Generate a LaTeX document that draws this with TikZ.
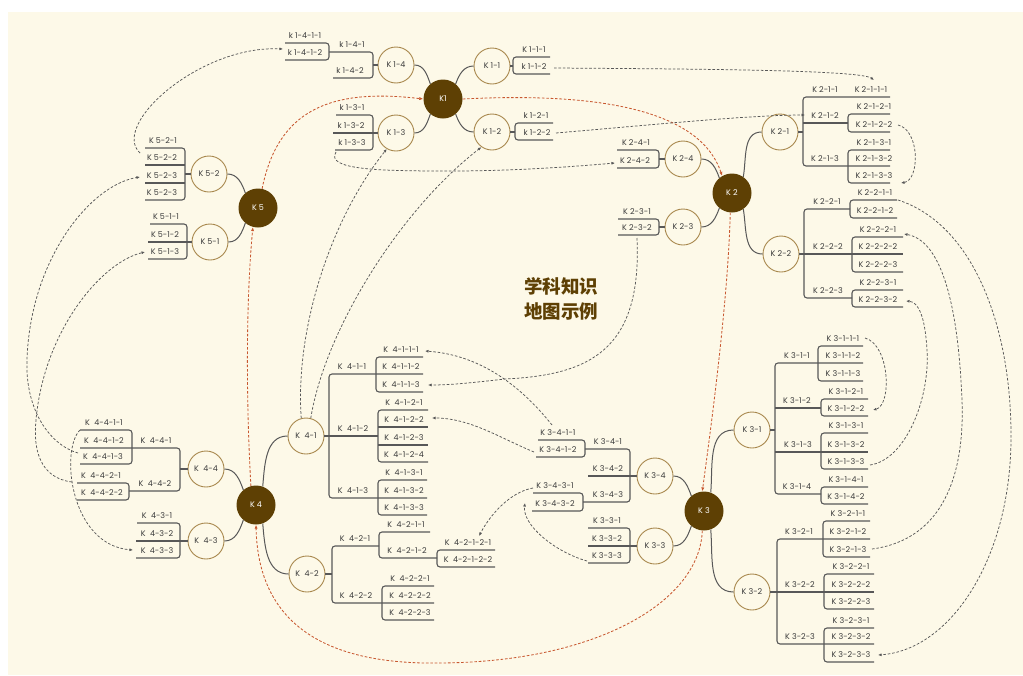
\documentclass[tikz,border=0pt]{standalone}
\usepackage{fontspec}
\setmainfont{Poppins}
\newfontfamily\cjk{Noto Sans CJK SC}
\usetikzlibrary{arrows.meta}

\definecolor{paper}{RGB}{253,249,232}
\definecolor{core}{RGB}{94,64,4}
\definecolor{ring}{RGB}{168,136,78}
\definecolor{wire}{RGB}{88,88,88}
\definecolor{ink}{RGB}{60,60,60}
\definecolor{cyc}{RGB}{200,88,48}

\newcommand\Kw{K\hspace{0.55em}}
% label above an underline: name, centre x, line y, text
\newcommand\tl[4]{\node[labeltext] (#1) at (#2,#3) {#4};}

\tikzset{
  mainnode/.style={circle, fill=core, minimum size=39pt, inner sep=0pt, text=white,
                   font=\fontsize{8}{9}\selectfont},
  subnode/.style={circle, draw=ring, line width=0.9pt, fill=paper, minimum size=36pt,
                  inner sep=0pt, text=ink, font=\fontsize{8}{9}\selectfont},
  labeltext/.style={anchor=base, yshift=4.2pt, inner sep=0pt, text=ink,
                    font=\fontsize{8}{9}\selectfont},
  treeline/.style={draw=wire, line width=1.1pt, rounded corners=3pt},
  mainlink/.style={draw=wire, line width=1pt},
  jumpline/.style={draw=wire, line width=0.75pt, dash pattern=on 2.6pt off 1.8pt,
                   -{Latex[length=3.5pt,width=3pt]}},
  loopline/.style={draw=cyc, line width=0.85pt, dash pattern=on 2.6pt off 1.8pt,
                   -{Latex[length=4pt,width=3.2pt]}},
}

\begin{document}
\begin{tikzpicture}[x=1pt,y=-1pt]
\useasboundingbox (0,0) rectangle (1023,675);
\fill[white] (0,0) rectangle (1023,675);
\fill[paper] (8,12) rectangle (1023,675);

% ---------- main topics ----------
\node[mainnode] (K1) at (443,99) {K1};
\node[mainnode] (K2) at (732,193) {K 2};
\node[mainnode] (K3) at (704,511) {K 3};
\node[mainnode] (K4) at (256,505) {K 4};
\node[mainnode] (K5) at (258,208) {K 5};

% ---------- sub topics ----------
\node[subnode] (K14) at (396,65) {K 1-4};
\node[subnode] (K13) at (396,133) {K 1-3};
\node[subnode] (K11) at (492,66) {K 1-1};
\node[subnode] (K12) at (492,132) {K 1-2};
\node[subnode] (K24) at (683,159) {K 2-4};
\node[subnode] (K23) at (683,227) {K 2-3};
\node[subnode] (K21) at (780,132) {K 2-1};
\node[subnode] (K22) at (781,254) {K 2-2};
\node[subnode] (K34) at (655,476) {K 3-4};
\node[subnode] (K33) at (655,546) {K 3-3};
\node[subnode] (K31) at (752,430) {K 3-1};
\node[subnode] (K32) at (752,592) {K 3-2};
\node[subnode] (K44) at (206,469) {\Kw 4-4};
\node[subnode] (K43) at (206,541) {\Kw 4-3};
\node[subnode] (K41) at (306,436) {\Kw 4-1};
\node[subnode] (K42) at (307,574) {\Kw 4-2};
\node[subnode] (K52) at (209,174) {K 5-2};
\node[subnode] (K51) at (210,242) {K 5-1};

% ---------- links main -> sub ----------
\draw[mainlink] (K14.east) to[out=0,in=110] (K1.130);
\draw[mainlink] (K13.east) to[out=0,in=-110] (K1.230);
\draw[mainlink] (K1.50) to[out=70,in=180] (K11.west);
\draw[mainlink] (K1.310) to[out=-70,in=180] (K12.west);
\draw[mainlink] (K24.east) to[out=0,in=110] (K2.130);
\draw[mainlink] (K23.east) to[out=0,in=-110] (K2.230);
\draw[mainlink] (K2.55) to[out=80,in=180] (K21.west);
\draw[mainlink] (K2.305) to[out=-80,in=180] (K22.west);
\draw[mainlink] (K34.east) to[out=0,in=110] (K3.130);
\draw[mainlink] (K33.east) to[out=0,in=-110] (K3.230);
\draw[mainlink] (K3.70) to[out=85,in=180] (K31.west);
\draw[mainlink] (K3.290) to[out=-85,in=180] (K32.west);
\draw[mainlink] (K44.east) to[out=0,in=110] (K4.130);
\draw[mainlink] (K43.east) to[out=0,in=-110] (K4.230);
\draw[mainlink] (K4.70) to[out=85,in=180] (K41.west);
\draw[mainlink] (K4.290) to[out=-85,in=180] (K42.west);
\draw[mainlink] (K52.east) to[out=0,in=110] (K5.130);
\draw[mainlink] (K51.east) to[out=0,in=-110] (K5.230);

% ---------- K 1 branches ----------
\draw[treeline] (K14.west) -- (373,65);
\draw[treeline] (329,52) -- (373,52) -- (373,78) -- (333,78);
\draw[treeline] (285,43) -- (329,43) -- (329,60) -- (285,60);
\draw[treeline] (K13.west) -- (333,133);
\draw[treeline] (336,115) -- (373,115) -- (373,150) -- (335,150);
\draw[treeline] (K11.east) -- (513,66);
\draw[treeline] (550,57) -- (513,57) -- (513,74) -- (550,74);
\draw[treeline] (K12.east) -- (515,132);
\draw[treeline] (553,123) -- (515,123) -- (515,140) -- (553,140);

\tl{l141}{352}{52}{k 1-4-1}
\tl{l142}{350}{78}{k 1-4-2}
\tl{l1411}{305}{43}{k 1-4-1-1}
\tl{l1412}{305}{60}{k 1-4-1-2}
\tl{l131}{352}{115}{k 1-3-1}
\tl{l132}{351}{133}{k 1-3-2}
\tl{l133}{352}{150}{k 1-3-3}
\tl{l111}{534}{57}{K 1-1-1}
\tl{l112}{534}{74}{k 1-1-2}
\tl{l121}{536}{123}{k 1-2-1}
\tl{l122}{537}{140}{k 1-2-2}

% ---------- K 2 branches ----------
\draw[treeline] (K24.west) -- (659,159);
\draw[treeline] (617,150) -- (659,150) -- (659,168) -- (617,168);
\draw[treeline] (K23.west) -- (659,227);
\draw[treeline] (618,219) -- (659,219) -- (659,235) -- (618,235);
\draw[treeline] (K21.east) -- (803,132);
\draw[treeline] (890,97) -- (803,97) -- (803,166) -- (890,166);
\draw[treeline] (803,123) -- (848,123);
\draw[treeline] (890,114) -- (848,114) -- (848,132) -- (890,132);
\draw[treeline] (890,150) -- (848,150) -- (848,183) -- (890,183);
\draw[treeline] (K22.east) -- (903,254);
\draw[treeline] (850,209) -- (804,209) -- (804,298) -- (852,298);
\draw[treeline] (897,200) -- (850,200) -- (850,218) -- (897,218);
\draw[treeline] (903,237) -- (852,237) -- (852,272) -- (903,272);
\draw[treeline] (903,290) -- (852,290) -- (852,307) -- (903,307);

\tl{l241}{636}{150}{K 2-4-1}
\tl{l242}{635}{168}{K 2-4-2}
\tl{l231}{637}{219}{K 2-3-1}
\tl{l232}{637}{235}{K 2-3-2}
\tl{l211}{825}{97}{K 2-1-1}
\tl{l2111}{871}{97}{K 2-1-1-1}
\tl{l212}{825}{123}{K 2-1-2}
\tl{l2121}{874}{114}{K 2-1-2-1}
\tl{l2122}{874}{132}{K 2-1-2-2}
\tl{l213}{825}{166}{K 2-1-3}
\tl{l2131}{874}{150}{K 2-1-3-1}
\tl{l2132}{874}{166}{K 2-1-3-2}
\tl{l2133}{874}{183}{K 2-1-3-3}
\tl{l221}{827}{209}{K 2-2-1}
\tl{l2211}{875}{200}{K 2-2-1-1}
\tl{l2212}{875}{218}{K 2-2-1-2}
\tl{l222}{828}{254}{K 2-2-2}
\tl{l2221}{878}{237}{K 2-2-2-1}
\tl{l2222}{878}{254}{K 2-2-2-2}
\tl{l2223}{878}{272}{K 2-2-2-3}
\tl{l223}{828}{298}{K 2-2-3}
\tl{l2231}{878}{290}{K 2-2-3-1}
\tl{l2232}{878}{307}{K 2-2-3-2}

% ---------- K 3 branches ----------
\draw[treeline] (K31.east) -- (775,430);
\draw[treeline] (863,363) -- (775,363) -- (775,494) -- (821,494);
\draw[treeline] (775,408) -- (821,408);
\draw[treeline] (775,452) -- (868,452);
\draw[treeline] (863,346) -- (818,346) -- (818,381) -- (863,381);
\draw[treeline] (868,399) -- (821,399) -- (821,416) -- (868,416);
\draw[treeline] (868,433) -- (821,433) -- (821,469) -- (868,469);
\draw[treeline] (868,487) -- (821,487) -- (821,504) -- (868,504);
\draw[treeline] (K32.east) -- (874,592);
\draw[treeline] (870,539) -- (777,539) -- (777,644) -- (874,644);
\draw[treeline] (870,521) -- (823,521) -- (823,557) -- (870,557);
\draw[treeline] (874,574) -- (824,574) -- (824,609) -- (874,609);
\draw[treeline] (874,628) -- (824,628) -- (824,662) -- (874,662);
\draw[treeline] (K34.west) -- (588,476);
\draw[treeline] (585,449) -- (630,449) -- (630,502) -- (583,502);
\draw[treeline] (538,440) -- (585,440) -- (585,457) -- (536,457);
\draw[treeline] (533,493) -- (583,493) -- (583,511) -- (532,511);
\draw[treeline] (K33.west) -- (588,546);
\draw[treeline] (588,528) -- (630,528) -- (630,563) -- (588,563);

\tl{l311}{797}{363}{K 3-1-1}
\tl{l3111}{843}{346}{K 3-1-1-1}
\tl{l3112}{843}{363}{K 3-1-1-2}
\tl{l3113}{843}{381}{K 3-1-1-3}
\tl{l312}{797}{408}{K 3-1-2}
\tl{l3121}{846}{399}{K 3-1-2-1}
\tl{l3122}{846}{416}{K 3-1-2-2}
\tl{l313}{798}{452}{K 3-1-3}
\tl{l3131}{846}{433}{K 3-1-3-1}
\tl{l3132}{846}{452}{K 3-1-3-2}
\tl{l3133}{846}{469}{K 3-1-3-3}
\tl{l314}{797}{494}{K 3-1-4}
\tl{l3141}{846}{487}{K 3-1-4-1}
\tl{l3142}{846}{504}{K 3-1-4-2}
\tl{l321}{799}{539}{K 3-2-1}
\tl{l3211}{848}{521}{K 3-2-1-1}
\tl{l3212}{848}{539}{K 3-2-1-2}
\tl{l3213}{848}{557}{K 3-2-1-3}
\tl{l322}{800}{592}{K 3-2-2}
\tl{l3221}{851}{574}{K 3-2-2-1}
\tl{l3222}{851}{592}{K 3-2-2-2}
\tl{l3223}{851}{609}{K 3-2-2-3}
\tl{l323}{800}{644}{K 3-2-3}
\tl{l3231}{851}{628}{K 3-2-3-1}
\tl{l3232}{851}{644}{K 3-2-3-2}
\tl{l3233}{851}{662}{K 3-2-3-3}
\tl{l341}{608}{449}{K 3-4-1}
\tl{l3411}{558}{440}{K 3-4-1-1}
\tl{l3412}{558}{457}{K 3-4-1-2}
\tl{l342}{608}{476}{K 3-4-2}
\tl{l343}{608}{502}{K 3-4-3}
\tl{l3431}{555}{493}{K 3-4-3-1}
\tl{l3432}{555}{511}{K 3-4-3-2}
\tl{l331}{607}{528}{K 3-3-1}
\tl{l332}{607}{546}{K 3-3-2}
\tl{l333}{607}{563}{K 3-3-3}

% ---------- K 5 branches ----------
\draw[treeline] (K52.west) -- (185,174);
\draw[treeline] (145,148) -- (185,148) -- (185,200) -- (145,200);
\draw[treeline] (145,165) -- (185,165);
\draw[treeline] (145,183) -- (185,183);
\draw[treeline] (K51.west) -- (148,242);
\draw[treeline] (150,224) -- (187,224) -- (187,259) -- (148,259);

\tl{l521}{163}{148}{K 5-2-1}
\tl{l522}{162}{165}{K 5-2-2}
\tl{l523}{162}{183}{K 5-2-3}
\tl{l524}{162}{200}{K 5-2-3}
\tl{l511}{166}{224}{K 5-1-1}
\tl{l512}{165}{242}{K 5-1-2}
\tl{l513}{165}{259}{K 5-1-3}

% ---------- K 4 branches ----------
\draw[treeline] (K44.west) -- (180,469);
\draw[treeline] (80,448) -- (180,448) -- (180,491) -- (129,491);
\draw[treeline] (80,430) -- (132,430) -- (132,464) -- (80,464);
\draw[treeline] (77,483) -- (129,483) -- (129,500) -- (77,500);
\draw[treeline] (K43.west) -- (136,541);
\draw[treeline] (137,523) -- (180,523) -- (180,558) -- (136,558);
\draw[treeline] (K41.east) -- (378,436);
\draw[treeline] (423,374) -- (329,374) -- (329,498) -- (427,498);
\draw[treeline] (423,357) -- (376,357) -- (376,392) -- (423,392);
\draw[treeline] (428,410) -- (378,410) -- (378,462) -- (428,462);
\draw[treeline] (378,427) -- (428,427);
\draw[treeline] (378,445) -- (428,445);
\draw[treeline] (427,480) -- (378,480) -- (378,515) -- (427,515);
\draw[treeline] (K42.east) -- (332,574);
\draw[treeline] (379,546) -- (332,546) -- (332,603) -- (434,603);
\draw[treeline] (430,532) -- (379,532) -- (379,558) -- (437,558);
\draw[treeline] (495,550) -- (437,550) -- (437,567) -- (495,567);
\draw[treeline] (434,586) -- (382,586) -- (382,620) -- (434,620);

\tl{l441}{156}{448}{\Kw 4-4-1}
\tl{l4411}{104}{430}{\Kw 4-4-1-1}
\tl{l4412}{104}{448}{\Kw 4-4-1-2}
\tl{l4413}{103}{464}{\Kw 4-4-1-3}
\tl{l442}{155}{491}{\Kw 4-4-2}
\tl{l4421}{101}{483}{\Kw 4-4-2-1}
\tl{l4422}{102}{500}{\Kw 4-4-2-2}
\tl{l431}{157}{523}{\Kw 4-3-1}
\tl{l432}{157}{541}{\Kw 4-3-2}
\tl{l433}{157}{558}{\Kw 4-3-3}
\tl{l411}{352}{374}{\Kw 4-1-1}
\tl{l4111}{401}{357}{\Kw 4-1-1-1}
\tl{l4112}{401}{374}{\Kw 4-1-1-2}
\tl{l4113}{401}{392}{\Kw 4-1-1-3}
\tl{l412}{353}{436}{\Kw 4-1-2}
\tl{l4121}{404}{410}{\Kw 4-1-2-1}
\tl{l4122}{404}{427}{\Kw 4-1-2-2}
\tl{l4123}{404}{445}{\Kw 4-1-2-3}
\tl{l4124}{404}{462}{\Kw 4-1-2-4}
\tl{l413}{353}{498}{\Kw 4-1-3}
\tl{l4131}{404}{480}{\Kw 4-1-3-1}
\tl{l4132}{404}{498}{\Kw 4-1-3-2}
\tl{l4133}{404}{515}{\Kw 4-1-3-3}
\tl{l421}{355}{546}{\Kw 4-2-1}
\tl{l4211}{406}{532}{\Kw 4-2-1-1}
\tl{l4212}{407}{558}{\Kw 4-2-1-2}
\tl{l42121}{468}{550}{\Kw 4-2-1-2-1}
\tl{l42122}{468}{567}{\Kw 4-2-1-2-2}
\tl{l422}{356}{603}{\Kw 4-2-2}
\tl{l4221}{410}{586}{\Kw 4-2-2-1}
\tl{l4222}{410}{603}{\Kw 4-2-2-2}
\tl{l4223}{410}{620}{\Kw 4-2-2-3}

% ---------- title ----------
\node[font=\cjk\bfseries\fontsize{18.5}{25}\selectfont, text=core, align=center, inner sep=0pt]
  (title) at (561,299) {学科知识\\地图示例};

% ---------- cycle between main topics ----------
\draw[loopline] (K5.78) .. controls (278,110) and (330,88) .. (K1.west);
\draw[loopline] (K1.east) .. controls (600,92) and (700,110) .. (K2.120);
\draw[loopline] (K2.265) .. controls (728,300) and (712,420) .. (K3.95);
\draw[loopline] (K3.265) .. controls (700,600) and (600,662) .. (440,663)
                .. controls (320,665) and (258,620) .. (K4.270);
\draw[loopline] (K4.105) .. controls (246,400) and (246,300) .. (K5.255);

% ---------- cross references ----------
\coordinate (a1) at (140,153);   \coordinate (b1) at (283,49);
\coordinate (a2) at (78,453);    \coordinate (b2) at (140,177);
\coordinate (a3) at (72,482);    \coordinate (b3) at (145,252);
\coordinate (a4) at (80,430);    \coordinate (b4) at (133,550);
\coordinate (a5) at (336,152);   \coordinate (b5) at (615,163);
\coordinate (a6) at (554,68);    \coordinate (b6) at (874,80);
\coordinate (a7) at (556,133);   \coordinate (b7) at (805,115);
\coordinate (a8) at (898,125);   \coordinate (b8) at (901,183);
\coordinate (a9) at (898,200);   \coordinate (b9) at (878,655);
\coordinate (a10) at (872,549);  \coordinate (b10) at (904,234);
\coordinate (a11) at (870,465);  \coordinate (b11) at (906,301);
\coordinate (a12) at (865,338);  \coordinate (b12) at (873,410);
\coordinate (a13) at (637,238);  \coordinate (b13) at (428,385);
\coordinate (a14) at (552,425);  \coordinate (b14) at (425,351);
\coordinate (a15) at (534,452);  \coordinate (b15) at (432,418);
\coordinate (a16) at (587,561);  \coordinate (b16) at (525,503);
\coordinate (a17) at (533,488);  \coordinate (b17) at (479,536);

\draw[jumpline] (a1) .. controls (110,125) and (200,45) .. (b1);
\draw[jumpline] (a2) .. controls (50,445) and (25,410) .. (27,360)
                .. controls (30,260) and (90,185) .. (b2);
\draw[jumpline] (a3) .. controls (40,478) and (33,450) .. (36,420)
                .. controls (44,330) and (102,262) .. (b3);
\draw[jumpline] (a4) .. controls (60,450) and (70,545) .. (b4);
\draw[jumpline] (a5) .. controls (325,170) and (380,171) .. (450,171)
                .. controls (520,171) and (580,166) .. (b5);
\draw[jumpline] (a6) .. controls (700,69) and (860,70) .. (b6);
\draw[jumpline] (a7) .. controls (650,125) and (750,115) .. (b7);
\draw[jumpline] (a8) .. controls (920,130) and (920,180) .. (b8);
\draw[jumpline] (a9) .. controls (975,225) and (1012,330) .. (1011,440)
                .. controls (1010,560) and (950,650) .. (b9);
\draw[jumpline] (a10) .. controls (940,540) and (965,480) .. (962,400)
                .. controls (958,300) and (940,240) .. (b10);
\draw[jumpline] (a11) .. controls (905,460) and (930,400) .. (927,350)
                .. controls (925,315) and (918,302) .. (b11);
\draw[jumpline] (a12) .. controls (890,345) and (892,405) .. (b12);
\draw[jumpline] (a13) .. controls (642,350) and (590,375) .. (505,379)
                .. controls (470,383) and (450,385) .. (b13);
\draw[jumpline] (a14) .. controls (520,385) and (480,355) .. (b14);
\draw[jumpline] (a15) .. controls (500,438) and (470,418) .. (b15);
\draw[jumpline] (a16) .. controls (555,552) and (522,525) .. (b16);
\draw[jumpline] (a17) .. controls (510,492) and (490,515) .. (b17);
\draw[jumpline] (K41.105) .. controls (295,330) and (330,220) .. (K13.240);
\draw[jumpline] (K41.75) .. controls (325,330) and (400,210) .. (K12.235);
\end{tikzpicture}
\end{document}
